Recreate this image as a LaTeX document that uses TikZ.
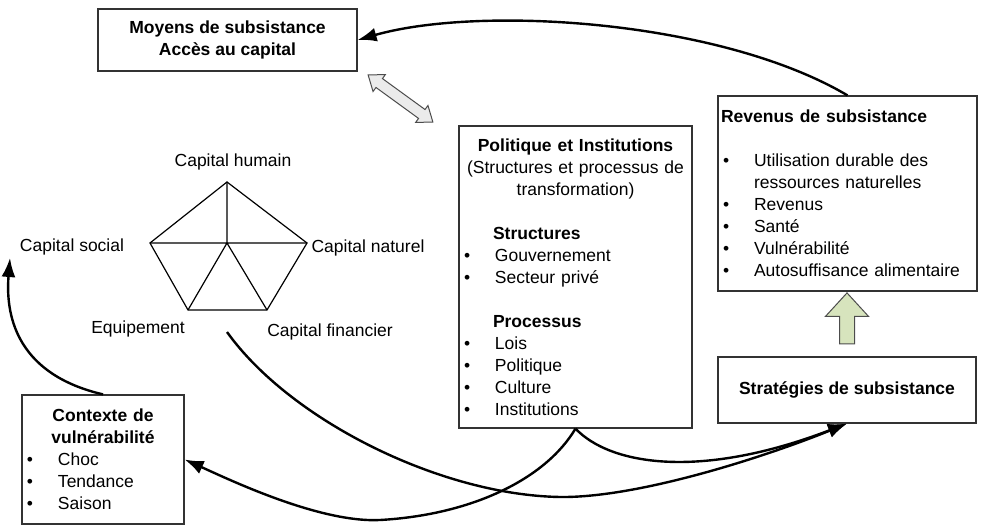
\documentclass[tikz,border=0pt]{standalone}
\usepackage{fontspec}
\setmainfont{Liberation Sans}
\usetikzlibrary{arrows.meta, shapes.arrows, positioning}
\definecolor{sage}{HTML}{D7E4BD}
\newcommand{\sz}{\fontsize{17.5}{22}\selectfont}
\newcommand{\itm}{\hspace*{5pt}\makebox[31pt][l]{\textbullet}}

\begin{document}
\begin{tikzpicture}[x=1pt, y=-1pt,
    every node/.style={font=\sz},
    box/.style={draw=black!80, line width=1.2pt, rectangle, inner sep=0pt},
    bold/.style={font=\bfseries\sz},
    penta/.style={line width=1.2pt},
    conn/.style={line width=2.4pt, -{Latex[length=19pt,width=14pt]}}]

    \useasboundingbox (0,0) rectangle (988,529);

    % Boxes
    \node[box, bold, minimum width=259pt, minimum height=62pt, align=center] (moyens) at (227.5,40) {Moyens de subsistance\\Accès au capital};

    \node[box, text width=233pt, minimum height=302pt, align=left] (politique) at (575.5,277) {%
      {\centering\textbf{Politique et Institutions}\\
      (Structures et processus de\\ transformation)\par}
      \vspace{22pt}
      \hspace*{34pt}\textbf{Structures}\\
      \itm Gouvernement\\
      \itm Secteur privé\par
      \vspace{22pt}
      \hspace*{34pt}\textbf{Processus}\\
      \itm Lois\\
      \itm Politique\\
      \itm Culture\\
      \itm Institutions};

    \node[box, text width=259pt, minimum height=195pt, align=left] (revenus) at (847.5,193.5) {%
      \hspace*{3pt}\textbf{Revenus de subsistance}\\[22pt]
      \itm Utilisation durable des\\
      \hspace*{36pt}ressources naturelles\\
      \itm Revenus\\
      \itm Santé\\
      \itm Vulnérabilité\\
      \itm Autosuffisance alimentaire};

    \node[box, bold, minimum width=258pt, minimum height=66pt] (strategies) at (847,390) {Stratégies de subsistance};

    \node[box, text width=162pt, minimum height=129pt, align=left] (contexte) at (103,459.5) {%
      {\centering\textbf{Contexte de}\\
      \textbf{vulnérabilité}\par}
      \itm Choc\\
      \itm Tendance\\
      \itm Saison};

    % Block arrows
    \node[double arrow, draw=black!70, line width=1pt, fill=black!8, rotate=-36,
          minimum height=80pt, inner sep=5pt, double arrow tip angle=75,
          double arrow head extend=5pt] (lien) at (400.5,98.5) {};
    \node[single arrow, draw=black!70, line width=1pt, fill=sage, rotate=90,
          minimum height=51pt, inner sep=7pt, single arrow tip angle=85,
          single arrow head extend=14pt] (hausse) at (847,322.5) {};

    % Pentagon of capitals
    \coordinate (ptop) at (227,182);
    \coordinate (pleft) at (150,243);
    \coordinate (pright) at (307,243);
    \coordinate (pbl) at (188,310);
    \coordinate (pbr) at (267,310);
    \coordinate (pc) at (227,243);
    \draw[penta] (ptop) -- (pright) -- (pbr) -- (pbl) -- (pleft) -- cycle;
    \draw[penta] (pleft) -- (pright) (ptop) -- (pc) (pbl) -- (pc) -- (pbr);

    \node (humain) at (233,162) {Capital humain};
    \node (social) at (72,247) {Capital social};
    \node (naturel) at (368,248) {Capital naturel};
    \node (equipement) at (138,329) {Equipement};
    \node (financier) at (330,332) {Capital financier};

    % Free ends of the curves
    \coordinate (socin) at (10,258);
    \coordinate (pout) at (227,332);
    \coordinate (creux) at (560,497);
    \coordinate (bas) at (380,520);

    % Connectors
    \draw[conn] (revenus.north) .. controls (720,20) and (480,5) .. (moyens.east);
    \draw[conn] (contexte.north) .. controls (20,375) and (5,320) .. (socin);
    \draw[conn] (pout) .. controls (290,420) and (440,495) .. (creux)
                .. controls (640,498) and (770,455) .. (strategies.south);
    \draw[conn] (politique.south) .. controls (545,480) and (470,515) .. (bas)
                .. controls (320,523) and (230,480) .. (contexte.east);
    \draw[conn] (politique.south) .. controls (610,465) and (700,480) .. (strategies.south);
\end{tikzpicture}
\end{document}
